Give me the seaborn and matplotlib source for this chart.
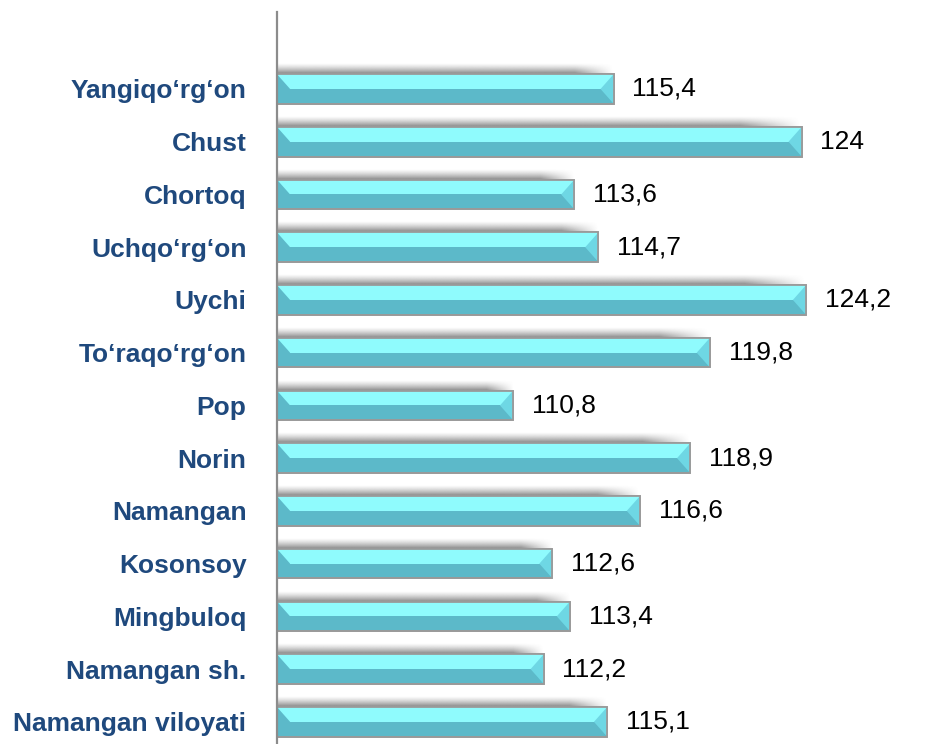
import numpy as np
import pandas as pd
import matplotlib
matplotlib.use("Agg")
import matplotlib.pyplot as plt
import seaborn as sns
from matplotlib.patches import Polygon, Rectangle

districts = ["Yangiqo‘rg‘on", "Chust", "Chortoq", "Uchqo‘rg‘on", "Uychi",
             "To‘raqo‘rg‘on", "Pop", "Norin", "Namangan", "Kosonsoy",
             "Mingbuloq", "Namangan sh.", "Namangan viloyati"]
values = [115.4, 124, 113.6, 114.7, 124.2, 119.8, 110.8, 118.9, 116.6,
          112.6, 113.4, 112.2, 115.1]
value_labels = ["115,4", "124", "113,6", "114,7", "124,2", "119,8", "110,8",
                "118,9", "116,6", "112,6", "113,4", "112,2", "115,1"]

df = pd.DataFrame({"district": districts, "value": values})

sns.set_theme(style="white")
plt.rcParams["font.family"] = ["Liberation Sans", "DejaVu Sans"]

fig = plt.figure(figsize=(9.25, 7.44), dpi=100)
ax = fig.add_axes([277 / 925, 0.0, 623 / 925, 1 - 12 / 744])

BASE = 100
df["rel"] = df["value"] - BASE
sns.barplot(data=df, x="rel", y="district", orient="h", ax=ax,
            color="#5CB9C9", saturation=1, width=0.56, edgecolor="#999999",
            linewidth=1.2, zorder=3)

ax.set_xlim(0, 28.5)
ax.set_ylim(12.42, -1.46)

light = "#8FFBFD"
dark = "#5CB9C9"
for p, lab in zip(ax.patches, value_labels):
    x0 = p.get_x()
    y0 = p.get_y()
    w = p.get_width()
    h = p.get_height()
    x1 = x0 + w
    ytop, ybot = y0, y0 + h
    ymid = y0 + h / 2
    # shadow above bar
    sh = 0.2
    n = 60
    fade = np.ones((n, 80))
    fade[:, -10:] = np.linspace(1, 0, 10)
    alpha = (np.linspace(0, 1, n) ** 1.3 * 0.8).reshape(-1, 1) * fade
    rgba = np.zeros((n, 80, 4))
    rgba[..., :3] = 0.4
    rgba[..., 3] = alpha
    ax.imshow(rgba, extent=(x0, x1 + 0.05, ytop, ytop - sh), aspect="auto",
              zorder=2, interpolation="bilinear")
    # top light half
    ax.add_patch(Rectangle((x0, ytop), w, h / 2, facecolor=light,
                           edgecolor="none", zorder=4))
    # left bevel (dark)
    ax.add_patch(Polygon([(x0, ytop), (x0 + 0.6, ymid), (x0, ybot)],
                         closed=True, facecolor=dark, edgecolor="none",
                         zorder=5))
    # right bevel
    ax.add_patch(Polygon([(x1, ytop), (x1 - 0.6, ymid), (x1, ybot)],
                         closed=True, facecolor="#6ED7E4", edgecolor="none",
                         zorder=5))
    # outline
    ax.add_patch(Rectangle((x0, ytop), w, h, facecolor="none",
                           edgecolor="#9A9A9A", linewidth=1.3, zorder=6))
    ax.annotate(lab, xy=(x1, ymid), xytext=(13.5, 0),
                textcoords="offset points", ha="left", va="center",
                fontsize=19, color="black", zorder=7)

ax.set_xlabel("")
ax.set_ylabel("")
ax.set_xticks([])
for s in ["top", "right", "bottom"]:
    ax.spines[s].set_visible(False)
ax.spines["left"].set_color("#8C8C8C")
ax.spines["left"].set_linewidth(1.6)
ax.spines["left"].set_zorder(8)
ax.tick_params(axis="y", length=0, pad=22)
for t in ax.get_yticklabels():
    t.set_fontsize(19)
    t.set_fontweight("bold")
    t.set_color("#1F497D")

fig.savefig("out.png", dpi=100)
